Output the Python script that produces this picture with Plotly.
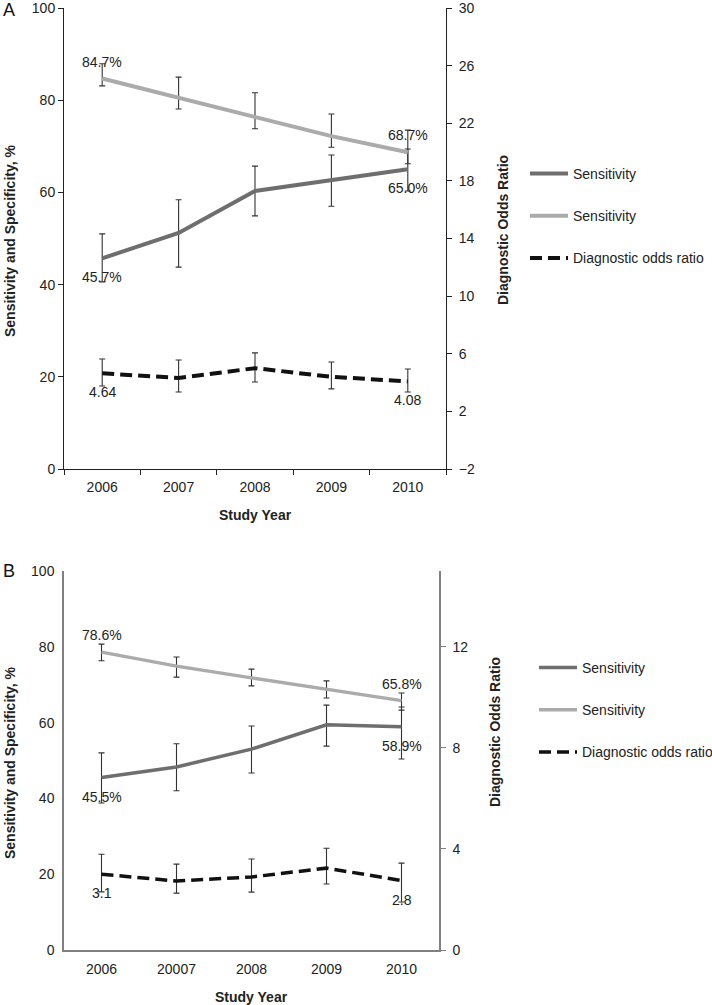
import plotly.graph_objects as go
from plotly.subplots import make_subplots

# ---------------- data ----------------
years_A = ["2006", "2007", "2008", "2009", "2010"]
years_B = ["2006", "20007", "2008", "2009", "2010"]

sens_A = [45.7, 51.2, 60.3, 62.7, 65.0]
sens_A_hi = [51.0, 58.4, 65.7, 68.1, 69.4]
sens_A_lo = [40.6, 43.8, 54.9, 57.0, 60.3]
spec_A = [84.7, 80.5, 76.2, 72.2, 68.7]
spec_A_hi = [87.9, 85.0, 81.6, 77.0, 73.5]
spec_A_lo = [83.1, 78.1, 73.8, 69.8, 66.2]
dor_A = [4.64, 4.32, 5.0, 4.4, 4.08]
dor_A_hi = [5.64, 5.57, 6.06, 5.43, 4.94]
dor_A_lo = [3.76, 3.35, 4.04, 3.56, 3.35]

sens_B = [45.5, 48.3, 53.0, 59.4, 58.9]
sens_B_hi = [52.0, 54.4, 59.1, 64.6, 64.1]
sens_B_lo = [38.8, 42.0, 46.7, 53.8, 50.4]
spec_B = [78.6, 74.9, 71.8, 68.9, 65.8]
spec_B_hi = [80.7, 77.3, 74.1, 71.0, 67.8]
spec_B_lo = [76.3, 72.0, 69.7, 66.5, 63.3]
dor_B = [3.0, 2.73, 2.89, 3.24, 2.75]
dor_B_hi = [3.79, 3.40, 3.60, 4.03, 3.44]
dor_B_lo = [2.3, 2.25, 2.29, 2.61, 1.9]

# end-point labels: (series, index, text)
labels_A = [("spec", 0, "84.7%"), ("sens", 0, "45.7%"), ("spec", 4, "68.7%"),
            ("sens", 4, "65.0%"), ("dor", 0, "4.64"), ("dor", 4, "4.08")]
labels_B = [("spec", 0, "78.6%"), ("sens", 0, "45.5%"), ("spec", 4, "65.8%"),
            ("sens", 4, "58.9%"), ("dor", 0, "3.1"), ("dor", 4, "2.8")]

legend_names = ["Sensitivity", "Sensitivity", "Diagnostic odds ratio"]

# ---------------- style ----------------
FONT = "Liberation Sans, Arial, sans-serif"
C_SENS = "#6e6e6e"
C_SPEC = "#ababab"
C_DOR = "#111111"
C_ERR = "#333333"

W, H = 712, 1005
ML, MR, MT, MB = 64, 266, 8, 55
PW = W - ML - MR
PH = H - MT - MB


def px_x(x):
    return (x - ML) / PW


def px_y(y):
    return (H - MB - y) / PH


def err(mean, hi, lo):
    return dict(type="data", symmetric=False,
                array=[h - m for h, m in zip(hi, mean)],
                arrayminus=[m - l for m, l in zip(mean, lo)],
                color=C_ERR, thickness=1.1, width=3)


fig = make_subplots(rows=2, cols=1, specs=[[{"secondary_y": True}], [{"secondary_y": True}]])

panels = [
    (1, years_A, sens_A, sens_A_hi, sens_A_lo, spec_A, spec_A_hi, spec_A_lo,
     dor_A, dor_A_hi, dor_A_lo, "legend", 4),
    (2, years_B, sens_B, sens_B_hi, sens_B_lo, spec_B, spec_B_hi, spec_B_lo,
     dor_B, dor_B_hi, dor_B_lo, "legend2", 3.5),
]

for (row, yrs, se, se_hi, se_lo, sp, sp_hi, sp_lo, dr, dr_hi, dr_lo, leg, lw) in panels:
    fig.add_trace(go.Scatter(x=yrs, y=se, mode="lines", name=legend_names[0],
                             line=dict(color=C_SENS, width=lw),
                             error_y=err(se, se_hi, se_lo), legend=leg,
                             legendgroup=f"se{row}"),
                  row=row, col=1, secondary_y=False)
    fig.add_trace(go.Scatter(x=yrs, y=sp, mode="lines", name=legend_names[1],
                             line=dict(color=C_SPEC, width=lw),
                             error_y=err(sp, sp_hi, sp_lo), legend=leg,
                             legendgroup=f"sp{row}"),
                  row=row, col=1, secondary_y=False)
    fig.add_trace(go.Scatter(x=yrs, y=dr, mode="lines", name=legend_names[2],
                             line=dict(color=C_DOR, width=lw, dash="12px,6px"),
                             error_y=err(dr, dr_hi, dr_lo), legend=leg,
                             legendgroup=f"dr{row}"),
                  row=row, col=1, secondary_y=True)

# value labels (category axes: position by category index)
ann = []
for (labels, se, sp, dr, xr, yl, yr_) in [
        (labels_A, sens_A, spec_A, dor_A, "x", "y", "y2"),
        (labels_B, sens_B, spec_B, dor_B, "x2", "y3", "y4")]:
    for ser, i, txt in labels:
        if ser == "spec":
            yv, yref, sh = sp[i], yl, 17
        elif ser == "sens":
            yv, yref, sh = se[i], yl, -19
        else:
            yv, yref, sh = dr[i], yr_, -19
        ann.append(dict(x=i, y=yv, xref=xr, yref=yref, text=txt,
                        showarrow=False, yshift=sh, xanchor="center", yanchor="middle",
                        font=dict(size=14, color="#222", family=FONT)))

# axis titles and panel letters (annotations in paper coords)
title_font = dict(size=14, color="#222", family=FONT)
B_RIGHT = 439
titles = [
    dict(x=px_x(10), y=px_y(241), text="<b>Sensitivity and Specificity, %</b>", textangle=-90),
    dict(x=px_x(503), y=px_y(230), text="<b>Diagnostic Odds Ratio</b>", textangle=-90),
    dict(x=px_x(255), y=px_y(515), text="<b>Study Year</b>"),
    dict(x=px_x(10), y=px_y(763), text="<b>Sensitivity and Specificity, %</b>", textangle=-90),
    dict(x=px_x(495), y=px_y(732), text="<b>Diagnostic Odds Ratio</b>", textangle=-90),
    dict(x=px_x(251), y=px_y(997), text="<b>Study Year</b>"),
]
for a in titles:
    a.update(xref="paper", yref="paper", showarrow=False, font=title_font,
             xanchor="center", yanchor="middle")
ann += titles
ann += [
    dict(x=px_x(9), y=px_y(10), xref="paper", yref="paper", text="A", showarrow=False,
         xanchor="center", yanchor="middle", font=dict(size=18, color="#111", family=FONT)),
    dict(x=px_x(9), y=px_y(571), xref="paper", yref="paper", text="B", showarrow=False,
         xanchor="center", yanchor="middle", font=dict(size=18, color="#111", family=FONT)),
]

tick_font = dict(size=14, color="#222", family=FONT)
A_LINE = "#222222"
B_LINE = "#808080"

fig.update_layout(
    width=W, height=H,
    margin=dict(l=ML, r=MR, t=MT, b=MB, autoexpand=False),
    paper_bgcolor="white", plot_bgcolor="white",
    font=dict(family=FONT, size=14, color="#222"),
    annotations=ann,
    xaxis=dict(domain=[0, 1], type="category", range=[-0.5, 4.5], showline=True,
               linecolor=A_LINE, linewidth=1, ticks="outside", tickson="boundaries",
               ticklen=5, tickcolor=A_LINE, tickfont=tick_font, showgrid=False,
               zeroline=False, anchor="y", ticklabelstandoff=5),
    yaxis=dict(domain=[px_y(469), px_y(8)], range=[0, 100], dtick=20, showline=True,
               linecolor=A_LINE, ticks="outside", ticklen=5, tickcolor=A_LINE,
               tickfont=tick_font, showgrid=False, zeroline=False, anchor="x",
               ticklabeloverflow="allow"),
    yaxis2=dict(range=[-2, 30], tick0=-2, dtick=4, showline=True, linecolor=A_LINE,
                ticks="outside", ticklen=5, tickcolor=A_LINE, tickfont=tick_font,
                showgrid=False, zeroline=False, side="right", overlaying="y", anchor="x",
                ticklabeloverflow="allow", ticklabelstandoff=4),
    xaxis2=dict(domain=[0, px_x(B_RIGHT)], type="category", range=[-0.5, 4.5],
                showline=True, linecolor=B_LINE, linewidth=1.5, ticks="outside",
                ticklen=5, tickcolor="rgba(0,0,0,0)",
                tickfont=tick_font, showgrid=False, zeroline=False, anchor="y3",
                ticklabelstandoff=0),
    yaxis3=dict(domain=[0, px_y(571)], range=[0, 100], dtick=20, showline=True,
                linecolor=B_LINE, linewidth=1.5, ticks="outside", ticklen=5,
                tickcolor="rgba(0,0,0,0)", tickfont=tick_font,
                showgrid=False, zeroline=False, anchor="x2", ticklabeloverflow="allow"),
    yaxis4=dict(range=[0, 15], tick0=0, dtick=4, showline=True, linecolor=B_LINE,
                linewidth=1.5, ticks="outside", ticklen=5, tickcolor=B_LINE,
                tickfont=tick_font, showgrid=False, zeroline=False, side="right",
                overlaying="y3", anchor="x2", ticklabeloverflow="allow",
                ticklabelstandoff=4),
    legend=dict(xref="container", yref="container", x=525 / W, y=1 - 158 / H,
                xanchor="left", yanchor="top", tracegroupgap=21, itemwidth=38,
                font=dict(size=14, color="#222", family=FONT), bgcolor="rgba(0,0,0,0)"),
    legend2=dict(xref="container", yref="container", x=534 / W, y=1 - 652 / H,
                 xanchor="left", yanchor="top", tracegroupgap=21, itemwidth=38,
                 font=dict(size=14, color="#222", family=FONT), bgcolor="rgba(0,0,0,0)"),
    showlegend=True,
)

fig.write_html("out.html", config={"displayModeBar": False},
               post_script="document.body.style.margin='0';")
